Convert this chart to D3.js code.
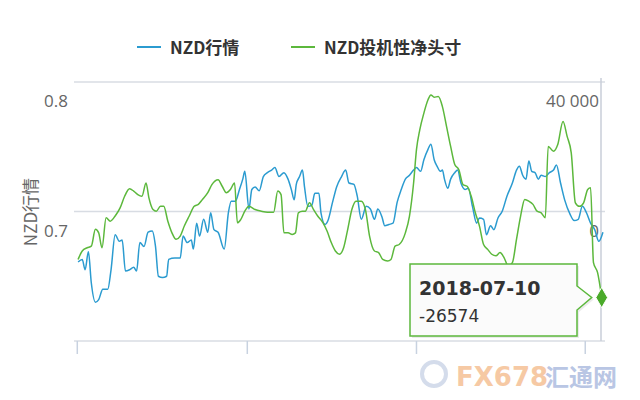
<!DOCTYPE html>
<html><head><meta charset="utf-8">
<script src="https://cdn.jsdelivr.net/npm/d3@7"></script>
<style>body{margin:0;background:#fff}</style></head>
<body><svg id="c" width="640" height="400"></svg>
<script>
const seriesNames = ["NZD行情", "NZD投机性净头寸"];
const leftTicks = [0.6, 0.7, 0.8];
const rightTicks = [-40000, 0, 40000];
const xTicks = [188, 601, 1012, 1422];
const blueT = [190,200,207,215,222,232,240,250,262,270,280,290,297,305,315,325,332,340,350,360,370,378,385,395,405,410,425,438,445,455,465,470,478,485,495,505,512,520,530,545,555,562,572,582,590,595,605,612,620,630,640,650,660,668,678,690,700,708,715,720,728,735,740,748,758,765,775,780,790,797,808,818,830,840,848,860,868,878,890,900,910,918,928,935,945,955,965,975,985,995,1005,1012,1022,1030,1040,1047,1055,1062,1070,1075,1080,1088,1095,1105,1112,1120,1130,1138,1148,1158,1165,1175,1182,1192,1200,1210,1220,1232,1245,1255,1262,1270,1278,1285,1292,1300,1308,1315,1325,1335,1345,1352,1362,1372,1385,1395,1405,1415,1425,1435,1445,1455,1465];
const blueV = [.661,.663,.655,.669,.645,.630,.632,.640,.640,.655,.682,.677,.678,.654,.655,.657,.654,.676,.673,.684,.685,.673,.650,.649,.650,.663,.664,.664,.681,.676,.678,.671,.691,.681,.694,.684,.699,.686,.684,.671,.699,.708,.708,.717,.725,.731,.702,.717,.719,.716,.727,.730,.732,.734,.727,.730,.725,.717,.709,.721,.727,.732,.719,.704,.705,.714,.714,.699,.690,.693,.707,.719,.727,.732,.722,.721,.712,.694,.704,.702,.694,.702,.696,.689,.690,.691,.707,.717,.725,.728,.732,.734,.731,.740,.748,.752,.740,.735,.731,.732,.725,.718,.725,.730,.732,.722,.717,.718,.704,.691,.695,.694,.682,.689,.686,.695,.700,.712,.722,.732,.735,.728,.725,.739,.731,.730,.725,.728,.727,.730,.732,.736,.722,.709,.698,.693,.694,.704,.699,.691,.686,.677,.684];
const greenT = [190,200,212,222,232,240,248,258,268,280,292,303,315,325,335,345,355,362,372,380,390,398,408,418,428,438,448,460,472,482,492,505,515,530,540,550,560,570,577,585,595,605,620,635,650,665,675,683,690,700,710,718,725,735,742,752,762,772,785,795,805,815,825,835,845,855,865,878,888,898,910,920,930,942,950,960,970,985,995,1005,1012,1020,1030,1040,1047,1055,1065,1075,1085,1095,1105,1115,1125,1135,1145,1155,1165,1175,1185,1195,1205,1215,1225,1235,1245,1255,1265,1275,1285,1295,1305,1315,1325,1332,1345,1355,1368,1378,1388,1398,1408,1418,1428,1435,1442,1452,1462];
const greenV = [-14800,-12200,-11200,-10700,-5500,-6600,-11200,-1900,-3000,-1400,1100,4700,7000,6300,5200,4700,8800,4200,600,100,1600,1600,-3000,-6600,-8600,-7600,-4500,-1400,1600,2200,3700,5800,8300,9800,7800,5800,6800,8800,-3500,-2500,100,1600,600,100,-200,-200,6300,5200,-6600,-6600,-7100,-6600,-400,100,100,2700,600,-1400,-3500,-6100,-9600,-12200,-13200,-11200,-5500,600,3200,3200,600,-7600,-12200,-12700,-14800,-15300,-14800,-10700,-10200,-6600,-1400,8800,19100,25200,30400,34500,36000,35300,35500,32400,26300,20100,14500,12900,8300,7800,4700,-400,-4500,-10200,-11700,-13200,-13700,-12700,-14300,-16800,-15800,-8600,-1400,3700,3200,2200,100,-400,-1900,20100,18600,20600,27800,23200,18100,2700,1600,2700,6800,7300,-15800,-18900,-26574];
const tipDate = "2018-07-10";

const svg = d3.select("#c");
const blue = "#2b9bd0", green = "#5cb83c";
const x = d3.scaleLinear().domain([180,1470]).range([74,605]);
const yl = d3.scaleLinear().domain([0.6,0.8]).range([341,82]);
const yr = d3.scaleLinear().domain([-40000,40000]).range([341,82]);

svg.append("g").selectAll("line").data(rightTicks).join("line")
  .attr("x1",74).attr("x2",605).attr("y1",d=>yr(d)).attr("y2",d=>yr(d))
  .attr("stroke","#d8dce3").attr("stroke-width",1.5);
svg.append("line").attr("x1",601).attr("x2",601).attr("y1",78).attr("y2",341).attr("stroke","#c8ced8").attr("stroke-width",1.5);
svg.append("g").selectAll("line").data(xTicks).join("line")
  .attr("x1",d=>x(d)).attr("x2",d=>x(d)).attr("y1",341).attr("y2",354).attr("stroke","#c8d2e0").attr("stroke-width",1.5);

svg.append("g").selectAll("text").data(leftTicks.filter(d=>d>0.65)).join("text")
  .attr("x",68).attr("y",d=>yl(d)+25).attr("text-anchor","end")
  .attr("font-family","Open Sans, sans-serif").attr("font-size",17).attr("fill","#666")
  .text(d=>d.toFixed(1));
svg.append("g").selectAll("text").data(rightTicks.filter(d=>d>=0)).join("text")
  .attr("x",599).attr("y",d=>yr(d)+25).attr("text-anchor","end")
  .attr("font-family","Open Sans, sans-serif").attr("font-size",17).attr("fill","#666")
  .text(d=>d===0?"0":d3.format(",")(d).replace(","," "));
svg.append("text").attr("transform","translate(29,212) rotate(-90)").attr("text-anchor","middle").attr("dominant-baseline","central")
  .attr("font-family","Noto Sans CJK SC, sans-serif").attr("font-size",17).attr("fill","#666").text(seriesNames[0]);

const lb = d3.line().x((d,i)=>x(blueT[i])).y(d=>yl(d)).curve(d3.curveMonotoneX);
const lg = d3.line().x((d,i)=>x(greenT[i])).y(d=>yr(d)).curve(d3.curveMonotoneX);
svg.append("path").attr("d",lb(blueV)).attr("fill","none").attr("stroke",blue).attr("stroke-width",1.5);
svg.append("path").attr("d",lg(greenV)).attr("fill","none").attr("stroke",green).attr("stroke-width",1.5);

const lgd = [{n:seriesNames[0],c:blue,x:137},{n:seriesNames[1],c:green,x:291}];
lgd.forEach(d=>{
  svg.append("line").attr("x1",d.x).attr("x2",d.x+24).attr("y1",47).attr("y2",47).attr("stroke",d.c).attr("stroke-width",2);
  svg.append("text").attr("x",d.x+33).attr("y",54).attr("font-family","Noto Sans CJK SC, sans-serif")
    .attr("font-weight","bold").attr("font-size",17).attr("fill","#333").text(d.n);
});

const px = x(greenT[greenT.length-1]), py = yr(greenV[greenV.length-1]);
const g = svg.append("g");
const tp = `M410,264 H577 V286 L${px-10},${py} L577,310 V336 H410 Z`;
g.append("path").attr("d",tp).attr("fill","#000").attr("opacity",0.08).attr("transform","translate(2,2)");
g.append("path").attr("d",tp).attr("fill","#fbfbfb").attr("stroke",green).attr("stroke-width",1.5);
g.append("text").attr("x",419).attr("y",295).attr("font-family","DejaVu Sans, sans-serif").attr("font-weight","bold")
  .attr("font-size",19).attr("fill","#333").text(tipDate);
g.append("text").attr("x",419).attr("y",322).attr("font-family","DejaVu Sans, sans-serif")
  .attr("font-size",17).attr("fill","#333").text(String(greenV[greenV.length-1]));
svg.append("path").attr("d",d3.symbol(d3.symbolDiamond,120)()).attr("transform",`translate(${px},${py})`)
  .attr("fill","#4aaa2a").attr("stroke","#fff").attr("stroke-width",1);

svg.append("circle").attr("cx",434).attr("cy",374).attr("r",12).attr("fill","none").attr("stroke","#c9d3e6").attr("stroke-width",4).attr("opacity",0.8);
svg.append("text").attr("x",456).attr("y",386).attr("font-family","DejaVu Sans, sans-serif").attr("font-weight","bold")
  .attr("font-size",26).attr("fill","#f6c9a4").text("FX678");
svg.append("text").attr("x",545).attr("y",386).attr("font-family","Noto Sans CJK SC, sans-serif").attr("font-weight","bold")
  .attr("font-size",24).attr("fill","#b9c6e4").text("汇通网");
</script></body></html>
